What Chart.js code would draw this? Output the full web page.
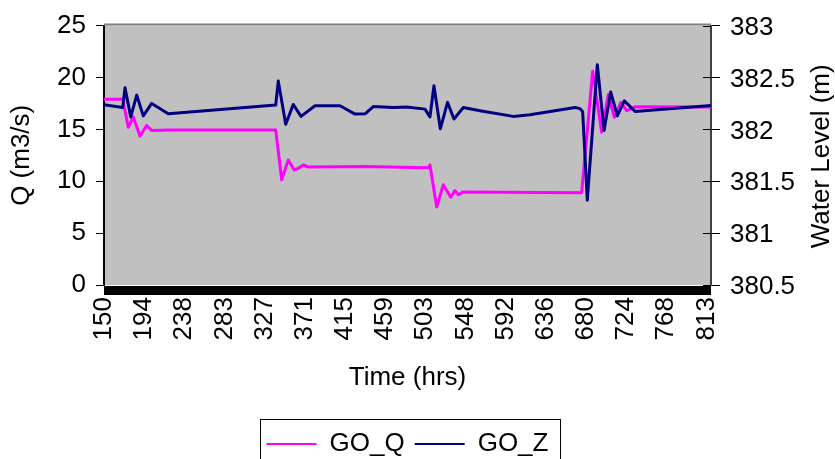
<!DOCTYPE html>
<html>
<head>
<meta charset="utf-8">
<title>GO discharge and water level</title>
<style>
  html, body { margin: 0; padding: 0; background: #ffffff; }
  #wrap { width: 835px; height: 459px; position: relative; }
</style>
<script src="https://cdn.jsdelivr.net/npm/chart.js@4.4.1/dist/chart.umd.min.js"></script>
</head>
<body>
<div id="wrap"><canvas id="chart" width="835" height="459"></canvas></div>
<script>
// Time axis labels (hrs)
const timeTicks = [150, 194, 238, 283, 327, 371, 415, 459, 503, 548, 592, 636, 680, 724, 768, 813];

// GO_Q : discharge (m3/s)
const timeQ = [150, 170.6, 176.7, 182.2, 189.6, 196.9, 202.4, 220.7, 338.8, 345.4, 352.6, 359.2, 363.6,
               369.1, 374.3, 437.0, 506.6, 508.4, 515.8, 523.1, 531.2, 535.9, 539.6, 545.1, 675.2,
               687.3, 697.2, 704.5, 711.1, 718.1, 724.7, 733.9, 817.4];
const flowQ = [17.9, 17.9, 15.2, 16.2, 14.35, 15.37, 14.9, 14.95, 14.95, 10.14, 12.04, 11.09, 11.25,
               11.57, 11.38, 11.42, 11.31, 11.57, 7.51, 9.67, 8.46, 9.1, 8.7, 8.97, 8.9,
               20.6, 14.73, 18.37, 16.16, 17.59, 16.8, 17.18, 17.15];

// GO_Z : water level (m)
const timeZ = [150, 170.6, 173.1, 179.4, 186.0, 193.2, 202.4, 220.7, 338.8, 341.6, 349.8, 358.1, 366.6,
               382.0, 409.5, 426.0, 437.0, 446.1, 468.1, 482.8, 502.9, 508.4, 512.8, 519.8, 527.7,
               534.8, 545.1, 563.4, 600.0, 618.4, 667.9, 673.4, 676.3, 681.4, 692.4, 699.8, 707.1,
               714.4, 722.1, 733.9, 817.4];
const levelZ = [382.237, 382.21, 382.40, 382.12, 382.33, 382.13, 382.25, 382.15, 382.235, 382.465, 382.05, 382.24, 382.125,
                382.227, 382.227, 382.147, 382.15, 382.22, 382.21, 382.215, 382.195, 382.12, 382.42, 382.005, 382.26,
                382.10, 382.21, 382.18, 382.125, 382.14, 382.21, 382.20, 382.17, 381.317, 382.623, 381.99, 382.36,
                382.13, 382.275, 382.173, 382.23];

const qPoints = timeQ.map((t, i) => ({ x: t, y: flowQ[i] }));
const zPoints = timeZ.map((t, i) => ({ x: t, y: levelZ[i] }));

const FONT = "'Liberation Sans', Arial, sans-serif";
Chart.defaults.font.family = FONT;
Chart.defaults.font.size = 26;
Chart.defaults.color = '#000000';

// Grey plot area, frame, heavy base bar, inner tick halves, right-hand title and legend frame
const plotDecor = {
  id: 'plotDecor',
  beforeDraw(chart) {
    const { ctx, chartArea: a } = chart;
    ctx.save();
    ctx.fillStyle = '#ffffff';
    ctx.fillRect(0, 0, chart.width, chart.height);
    ctx.fillStyle = '#c0c0c0';
    ctx.fillRect(a.left, a.top, a.right - a.left, a.bottom - a.top);
    ctx.restore();
  },
  beforeDatasetsDraw(chart) {
    const { ctx, chartArea: a } = chart;
    ctx.save();
    ctx.strokeStyle = '#808080';
    ctx.lineWidth = 2;
    ctx.beginPath();
    ctx.moveTo(a.left, a.top - 1);
    ctx.lineTo(a.right, a.top - 1);
    ctx.stroke();
    ctx.restore();
  },
  afterDatasetsDraw(chart) {
    const { ctx, chartArea: a } = chart;
    ctx.save();
    ctx.fillStyle = '#000000';
    ctx.fillRect(a.left, a.bottom + 1, a.right - a.left, 9);
    // inner halves of the right axis tick marks
    const y1 = chart.scales.y1;
    ctx.strokeStyle = '#000000';
    ctx.lineWidth = 1;
    y1.ticks.forEach((t, i) => {
      const py = Math.round(y1.getPixelForTick(i)) + 0.5;
      ctx.beginPath();
      ctx.moveTo(a.right - 8, py);
      ctx.lineTo(a.right, py);
      ctx.stroke();
    });
    ctx.restore();
  },
  afterDraw(chart) {
    const { ctx, chartArea: a } = chart;
    ctx.save();
    // right axis title, reading upward
    ctx.translate(822, (a.top + a.bottom) / 2 + 1);
    ctx.rotate(-Math.PI / 2);
    ctx.textAlign = 'center';
    ctx.textBaseline = 'middle';
    ctx.fillStyle = '#000000';
    ctx.font = '26px ' + FONT;
    ctx.fillText('Water Level (m)', 0, 0);
    ctx.restore();

    // frame around the legend entries
    const lg = chart.legend;
    if (lg && lg.legendHitBoxes && lg.legendHitBoxes.length) {
      const boxes = lg.legendHitBoxes;
      const left = Math.min(...boxes.map(b => b.left)) - 7;
      const right = Math.max(...boxes.map(b => b.left + b.width)) + 11;
      const top = lg.top - 2;
      ctx.save();
      ctx.strokeStyle = '#000000';
      ctx.lineWidth = 1;
      ctx.strokeRect(Math.round(left) + 0.5, Math.round(top) + 0.5, Math.round(right - left), 60);
      ctx.restore();
    }
  }
};

const baseLegendLabels = (Chart.defaults.plugins && Chart.defaults.plugins.legend &&
  Chart.defaults.plugins.legend.labels.generateLabels) ||
  Chart.registry.getPlugin('legend').defaults.labels.generateLabels;

new Chart(document.getElementById('chart'), {
  type: 'line',
  data: {
    datasets: [
      {
        label: 'GO_Q',
        data: qPoints,
        yAxisID: 'y',
        borderColor: '#ff00ff',
        backgroundColor: '#ff00ff',
        borderWidth: 3,
        pointRadius: 0,
        tension: 0,
        borderJoinStyle: 'round',
        borderCapStyle: 'round',
        order: 1
      },
      {
        label: 'GO_Z',
        data: zPoints,
        yAxisID: 'y1',
        borderColor: '#000080',
        backgroundColor: '#000080',
        borderWidth: 3,
        pointRadius: 0,
        tension: 0,
        borderJoinStyle: 'round',
        borderCapStyle: 'round',
        order: 0
      }
    ]
  },
  options: {
    responsive: false,
    animation: false,
    devicePixelRatio: 1,
    layout: { padding: { top: 22, right: 20, bottom: -8, left: 0 } },
    plugins: {
      tooltip: { enabled: false },
      legend: {
        position: 'bottom',
        align: 'center',
        labels: {
          boxWidth: 50,
          boxHeight: 2,
          padding: 10,
          color: '#000000',
          font: { size: 26, family: FONT },
          sort: (a, b) => a.datasetIndex - b.datasetIndex,
          generateLabels: (chart) => baseLegendLabels(chart).map(it =>
            Object.assign(it, { fillStyle: it.strokeStyle, lineWidth: 0 }))
        }
      }
    },
    scales: {
      x: {
        type: 'linear',
        min: 150,
        max: 817.4,
        afterBuildTicks: (s) => { s.ticks = timeTicks.map(v => ({ value: v })); },
        afterFit: (s) => { s.height = 136; },
        grid: { display: false, drawTicks: false },
        border: { display: false },
        ticks: {
          autoSkip: false,
          minRotation: 90,
          maxRotation: 90,
          padding: 12,
          color: '#000000',
          font: { size: 26, family: "'Liberation Sans Narrow', 'Liberation Sans', Arial, sans-serif" },
          callback: (v) => String(v)
        },
        title: {
          display: true,
          text: 'Time (hrs)',
          color: '#000000',
          font: { size: 26, family: FONT },
          padding: { top: 0, bottom: 28 }
        }
      },
      y: {
        position: 'left',
        min: 0,
        max: 25,
        afterFit: (s) => { s.width = 104; },
        ticks: { stepSize: 5, padding: 10, color: '#000000', font: { size: 26, family: FONT } },
        grid: { drawOnChartArea: false, drawTicks: true, tickLength: 8, color: '#000000', lineWidth: 1 },
        border: { display: true, color: '#000000', width: 2 },
        title: {
          display: true,
          text: 'Q (m3/s)',
          color: '#000000',
          font: { size: 26, family: FONT },
          padding: { top: 6, bottom: 0 }
        }
      },
      y1: {
        position: 'right',
        min: 380.5,
        max: 383,
        afterFit: (s) => { s.width = 104; },
        ticks: {
          stepSize: 0.5,
          padding: 10,
          labelOffset: 2,
          color: '#000000',
          font: { size: 26, family: FONT },
          callback: (v) => (Number.isInteger(v) ? String(v) : v.toFixed(1))
        },
        grid: { drawOnChartArea: false, drawTicks: true, tickLength: 9, color: '#000000', lineWidth: 1 },
        border: { display: true, color: '#404040', width: 2 }
      }
    }
  },
  plugins: [plotDecor]
});
</script>
</body>
</html>
